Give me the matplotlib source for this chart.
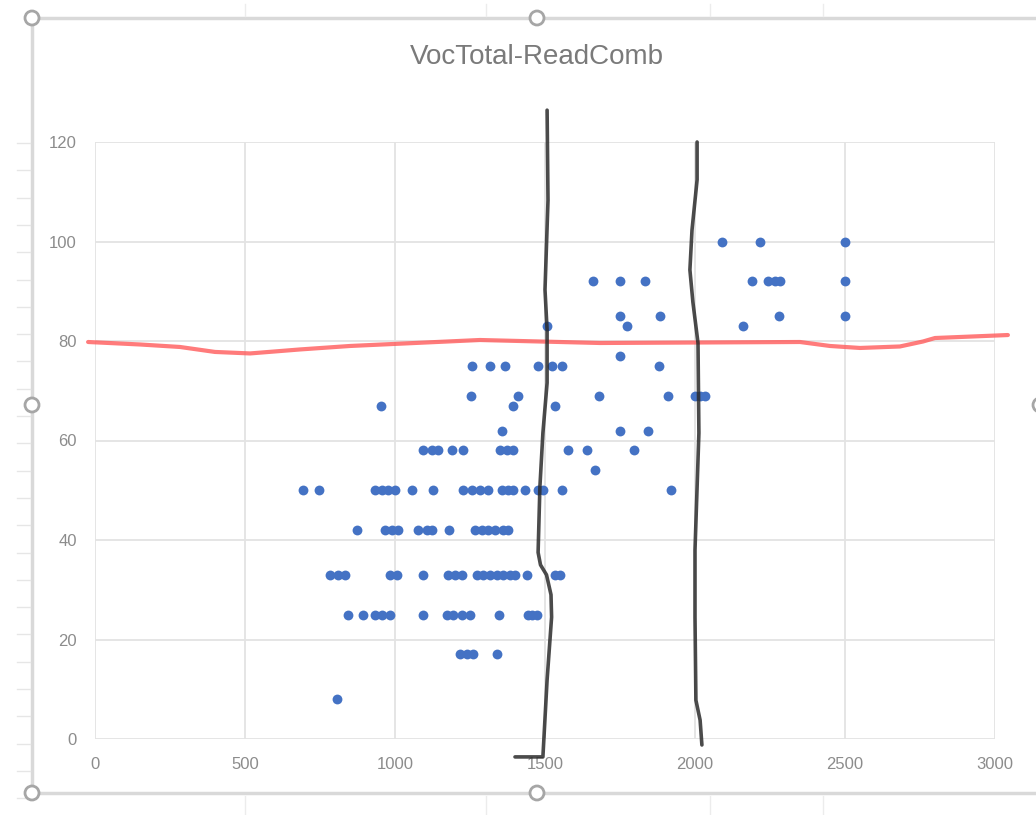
import numpy as np
import matplotlib
matplotlib.use("Agg")
import matplotlib.pyplot as plt
from matplotlib.patches import Circle

plt.rcParams['font.family'] = ['Liberation Sans', 'DejaVu Sans']

# scatter data, one line per ReadComb level
vocab_total = [
    2090, 2217, 2500,
    1660, 1750, 1833, 2190, 2243, 2267, 2283, 2500,
    1750, 1883, 2280, 2500,
    1507, 1773, 2160,
    1750,
    1257, 1317, 1367, 1477, 1523, 1557, 1880,
    1253, 1410, 1680, 1910, 2000, 2017, 2033,
    953, 1393, 1533,
    1357, 1750, 1843,
    1093, 1123, 1143, 1190, 1227, 1350, 1373, 1393, 1577, 1640, 1797,
    1667,
    693, 747, 933, 957, 977, 1000, 1057, 1127, 1227, 1257, 1283, 1310,
    1357, 1377, 1393, 1433, 1477, 1493, 1557, 1920,
    873, 967, 990, 1010, 1077, 1107, 1123, 1180, 1267, 1290, 1310, 1333,
    1360, 1377,
    783, 810, 833, 983, 1007, 1093, 1177, 1200, 1223, 1273, 1293, 1317,
    1340, 1360, 1383, 1400, 1440, 1533, 1550,
    843, 893, 933, 957, 983, 1093, 1173, 1193, 1223, 1250, 1347, 1443,
    1457, 1473,
    1217, 1240, 1260, 1340,
    807,
]
read_comb = (
    [100] * 3 + [92] * 8 + [85] * 4 + [83] * 3 + [77] * 1 + [75] * 7
    + [69] * 7 + [67] * 3 + [62] * 3 + [58] * 11 + [54] * 1 + [50] * 20
    + [42] * 14 + [33] * 19 + [25] * 14 + [17] * 4 + [8] * 1
)

# hand-drawn annotations
red_x = [-23, 150, 283, 400, 517, 683, 850, 1283, 1683, 2350, 2450, 2550, 2683, 2760, 2800, 3043]
red_y = [79.8, 79.3, 78.8, 77.8, 77.5, 78.3, 79.0, 80.2, 79.6, 79.8, 79.0, 78.6, 78.9, 79.9, 80.6, 81.2]
black1_x = [1507, 1510, 1500, 1507, 1507, 1493, 1483, 1477, 1485, 1505, 1520, 1522, 1507, 1493, 1400]
black1_y = [126.4, 108.3, 90.3, 82.2, 71.6, 61.5, 50.7, 37.5, 35.0, 33.0, 29.0, 24.5, 11.9, -3.6, -3.6]
black2_x = [2007, 2007, 1990, 1983, 1993, 2010, 2013, 2000, 2000, 2003, 2017, 2023]
black2_y = [120, 112.4, 102.3, 94.3, 87.8, 79.6, 61.5, 38.0, 24.5, 7.8, 3.8, -1.2]

x_ticks = [0, 500, 1000, 1500, 2000, 2500, 3000]
y_ticks = [0, 20, 40, 60, 80, 100, 120]

fig = plt.figure(figsize=(10.36, 8.15), dpi=100)

# excel chart frame with selection handles (pixel coords)
deco = fig.add_axes([0, 0, 1, 1], zorder=0)
deco.set_xlim(0, 1036)
deco.set_ylim(815, 0)
deco.axis('off')
deco.plot([32, 1040, 1040, 32, 32], [18, 18, 793, 793, 18], color='#d9d9d9', lw=2.5, clip_on=False)
for ty in np.arange(143, 800, 27.3):
    deco.plot([17, 30], [ty, ty], color='#e6e6e6', lw=1)
for tx in [245, 486, 710, 823]:
    deco.plot([tx, tx], [4, 16], color='#ececec', lw=1)
    deco.plot([tx, tx], [796, 815], color='#ececec', lw=1)
for cx, cy in [(32, 18), (537, 18), (32, 405), (32, 793), (537, 793), (1040, 405)]:
    deco.add_patch(Circle((cx, cy), 7, facecolor='white', edgecolor='#a6a6a6', lw=2, zorder=3))

ax = fig.add_axes([95 / 1036, 1 - 739 / 815, 900 / 1036, 597 / 815], zorder=1)
ax.patch.set_alpha(0)
ax.scatter(vocab_total, read_comb, s=50, color='#4472c4', zorder=3, linewidths=0)
ax.plot(red_x, red_y, color='#ff5a5a', lw=3, alpha=0.8, clip_on=False, zorder=4,
        solid_capstyle='round', solid_joinstyle='round')
ax.plot(black1_x, black1_y, color='#2b2b2b', lw=2.6, alpha=0.85, clip_on=False, zorder=5,
        solid_capstyle='round', solid_joinstyle='round')
ax.plot(black2_x, black2_y, color='#2b2b2b', lw=2.6, alpha=0.85, clip_on=False, zorder=5,
        solid_capstyle='round', solid_joinstyle='round')

ax.set_xlim(0, 3000)
ax.set_ylim(0, 120)
ax.set_xticks(x_ticks)
ax.set_yticks(y_ticks)
ax.grid(True, color='#e3e3e3', lw=1.3)
ax.set_axisbelow(True)
for s in ax.spines.values():
    s.set_visible(False)
ax.tick_params(length=0, colors='#8c8c8c', labelsize=12, pad=13)

fig.text(537 / 1036, 1 - 57 / 815, 'VocTotal-ReadComb', ha='center', va='center',
         fontsize=20, color='#7a7a7a')

fig.savefig('out.png', dpi=100)
